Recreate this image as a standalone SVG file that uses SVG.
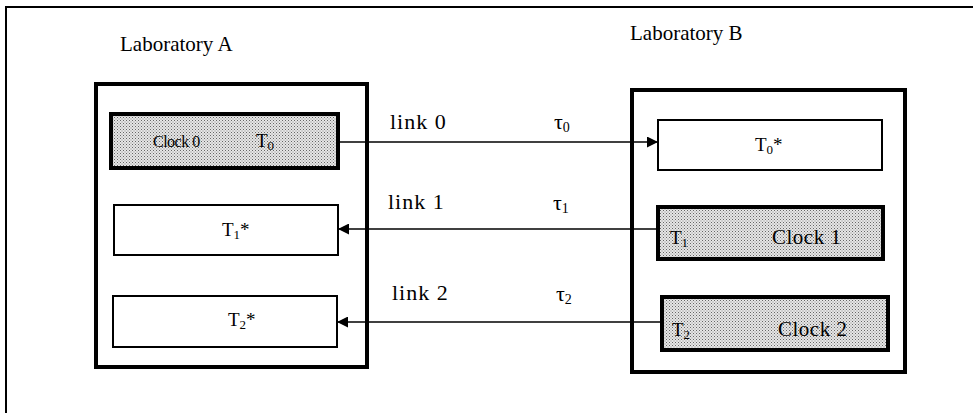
<svg xmlns="http://www.w3.org/2000/svg" width="973" height="413" viewBox="0 0 973 413">
<style>
text{fill:#000}
.lab{font-size:21px}
.lk{font-size:22px;letter-spacing:1px}
.tau{font-size:22px}
.bx{font-size:19px}
.cl0{font-size:16px;letter-spacing:-0.5px}
.cl{font-size:21px;letter-spacing:0.5px}
.lab-box{fill:none;stroke:#000;stroke-width:4}
.clk{fill:url(#stip);stroke:#000;stroke-width:4}
.rcv{fill:#fff;stroke:#000;stroke-width:2}
.conn{stroke:#000;stroke-width:1.6;fill:none}
</style>
<defs>
<pattern id="stip" width="3" height="3" patternUnits="userSpaceOnUse">
<rect width="3" height="3" fill="#e6e6e6"/>
<rect x="0" y="0" width="1" height="1" fill="#666"/>
<rect x="1.5" y="1.5" width="1" height="1" fill="#888"/>
</pattern>
<marker id="ah" viewBox="0 0 10 10" refX="10" refY="5" markerWidth="11" markerHeight="11" markerUnits="userSpaceOnUse" orient="auto">
<path d="M0,0 L10,5 L0,10 z" fill="#000"/>
</marker>
</defs>
<rect width="973" height="413" fill="#fff"/>
<g font-family="'Liberation Serif', 'Times New Roman', 'DejaVu Serif', serif">
<g id="frame"><path d="M6,413 V7 H973" fill="none" stroke="#000" stroke-width="2"/></g>

<g id="labA">
<text class="lab" x="120" y="51">Laboratory A</text>
<rect class="lab-box" x="96" y="84" width="271" height="283"/>
</g>
<g id="labB">
<text class="lab" x="630" y="40">Laboratory B</text>
<rect class="lab-box" x="632" y="90" width="273" height="282"/>
</g>

<g id="clock0">
<rect class="clk" x="111" y="114" width="227" height="54"/>
<text class="cl0" x="153" y="147">Clock 0</text>
<text class="bx" x="256" y="147">T<tspan font-size="13" dy="3">0</tspan></text>
</g>
<g id="t1star">
<rect class="rcv" x="114" y="205" width="224" height="50"/>
<text class="bx" x="222" y="236">T<tspan font-size="13" dy="3">1</tspan><tspan dy="-3">*</tspan></text>
</g>
<g id="t2star">
<rect class="rcv" x="113" y="296" width="224" height="51"/>
<text class="bx" x="228" y="326">T<tspan font-size="13" dy="3">2</tspan><tspan dy="-3">*</tspan></text>
</g>
<g id="t0star">
<rect class="rcv" x="658" y="120" width="224" height="50"/>
<text class="bx" x="755" y="151">T<tspan font-size="13" dy="3">0</tspan><tspan dy="-3">*</tspan></text>
</g>
<g id="clock1">
<rect class="clk" x="658" y="207" width="225" height="52"/>
<text class="bx" x="670" y="244">T<tspan font-size="13" dy="3">1</tspan></text>
<text class="cl" x="772" y="244">Clock 1</text>
</g>
<g id="clock2">
<rect class="clk" x="662" y="297" width="226" height="53"/>
<text class="bx" x="672" y="336">T<tspan font-size="13" dy="3">2</tspan></text>
<text class="cl" x="778" y="336">Clock 2</text>
</g>

<g id="connectors">
<line class="conn" x1="338" y1="142" x2="658" y2="142" marker-end="url(#ah)"/>
<line class="conn" x1="658" y1="229" x2="338" y2="229" marker-end="url(#ah)"/>
<line class="conn" x1="662" y1="322" x2="337" y2="322" marker-end="url(#ah)"/>
<text class="lk" x="390" y="129">link 0</text>
<text class="tau" x="554" y="129">τ<tspan font-size="14" dy="3">0</tspan></text>
<text class="lk" x="388" y="209">link 1</text>
<text class="tau" x="553" y="210">τ<tspan font-size="14" dy="3">1</tspan></text>
<text class="lk" x="392" y="300">link 2</text>
<text class="tau" x="556" y="301">τ<tspan font-size="14" dy="3">2</tspan></text>
</g>
</g>
</svg>
